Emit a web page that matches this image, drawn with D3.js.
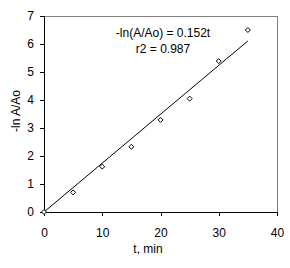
<!DOCTYPE html>
<html>
<head>
<meta charset="utf-8">
<script src="https://cdn.jsdelivr.net/npm/d3@7"></script>
<style>
  body { margin: 0; background: #fff; }
  text { font-family: "Liberation Sans", Arial, sans-serif; font-size: 12px; fill: #000; }
</style>
</head>
<body>
<svg id="chart"></svg>
<script>
// time, min
var times = [0, 5, 10, 15, 20, 25, 30, 35];
// -ln(A/Ao)
var lnValues = [0, 0.70, 1.62, 2.33, 3.29, 4.05, 5.39, 6.50];
var xTicks = [0, 10, 20, 30, 40];
var yTicks = [0, 1, 2, 3, 4, 5, 6, 7];
var eqLines = ["-ln(A/Ao) = 0.152t", "r2 = 0.987"];

var width = 290, height = 268;
var margin = {left: 44, right: 13, top: 16, bottom: 56};

var svg = d3.select("#chart").attr("width", width).attr("height", height);

var xScale = d3.scaleLinear().domain([0, 40]).range([margin.left, width - margin.right]);
var yScale = d3.scaleLinear().domain([0, 7]).range([height - margin.bottom, margin.top]);

// plot frame (top and right in gray)
svg.append("path")
   .attr("d", "M" + xScale(0) + "," + yScale(7) + "H" + xScale(40) + "V" + yScale(0))
   .attr("fill", "none").attr("stroke", "#808080").attr("stroke-width", 1)
   .attr("shape-rendering", "crispEdges");

var xAxis = d3.axisBottom(xScale).tickValues(xTicks).tickSize(4).tickPadding(12).tickFormat(d3.format("d"));
var yAxis = d3.axisLeft(yScale).tickValues(yTicks).tickSize(4).tickPadding(6).tickFormat(d3.format("d"));

var gx = svg.append("g").attr("transform", "translate(0," + yScale(0) + ")").call(xAxis);
var gy = svg.append("g").attr("transform", "translate(" + xScale(0) + ",0)").call(yAxis);
[gx, gy].forEach(function(g) {
  g.selectAll("path, line").attr("stroke", "#000").attr("shape-rendering", "crispEdges");
  g.selectAll("text").style("font-size", "12px").style("font-family", "'Liberation Sans', Arial, sans-serif");
});

// trend line through origin (least squares)
var sxy = d3.sum(times, function(t, i) { return t * lnValues[i]; });
var sxx = d3.sum(times, function(t) { return t * t; });
var slope = sxy / sxx;
var line = d3.line().x(function(t) { return xScale(t); }).y(function(t) { return yScale(slope * t); });
svg.append("path")
   .datum([0, d3.max(times)])
   .attr("d", line)
   .attr("fill", "none").attr("stroke", "#000").attr("stroke-width", 1);

// diamond markers
svg.selectAll(".pt").data(times).enter().append("path")
   .attr("class", "pt")
   .attr("d", function(t, i) {
     var x = xScale(t), y = yScale(lnValues[i]), r = 2.5;
     return "M" + x + "," + (y - r) + "L" + (x + r) + "," + y + "L" + x + "," + (y + r) + "L" + (x - r) + "," + y + "Z";
   })
   .attr("fill", "#fff").attr("stroke", "#000").attr("stroke-width", 1);

// equation text
svg.selectAll(".eq").data(eqLines).enter().append("text")
   .attr("class", "eq")
   .attr("x", 163).attr("y", function(d, i) { return 37 + i * 16; })
   .attr("text-anchor", "middle")
   .text(function(d) { return d; });

// axis titles
svg.append("text").attr("x", 148).attr("y", 253)
   .attr("text-anchor", "middle").text("t, min");
svg.append("text")
   .attr("transform", "translate(20,111) rotate(-90)")
   .attr("text-anchor", "middle").text("-ln A/Ao");
</script>
</body>
</html>
